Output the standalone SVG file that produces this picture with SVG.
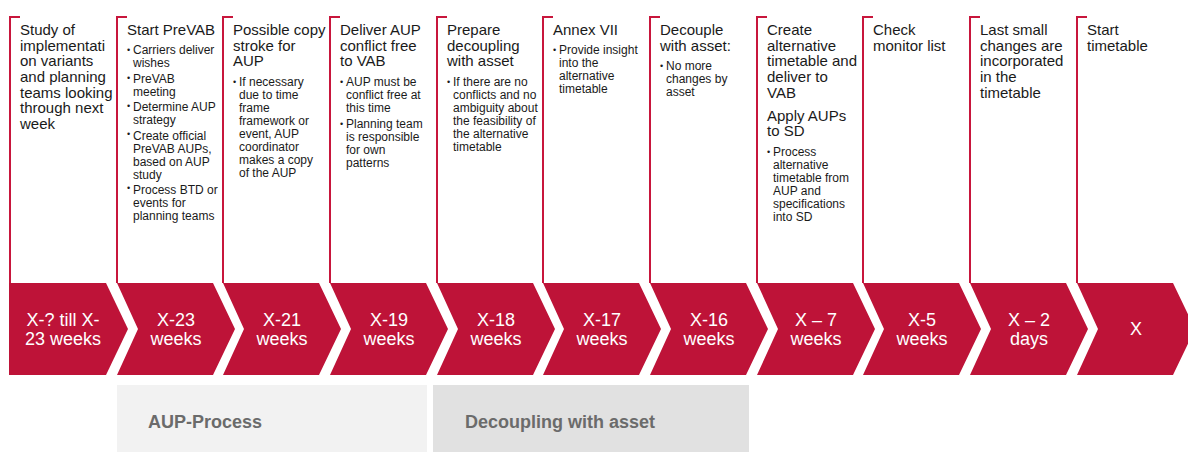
<svg xmlns="http://www.w3.org/2000/svg" width="1188" height="452" viewBox="0 0 1188 452">
<style>
.ln{fill:none;stroke:#C8163C;stroke-width:2}
.t{font-family:"Liberation Sans",Arial,sans-serif;font-size:15px;fill:#1a1a1a}
.b{font-family:"Liberation Sans",Arial,sans-serif;font-size:12px;fill:#1a1a1a}
.d{font-family:"Liberation Sans",Arial,sans-serif;font-size:9px;fill:#1a1a1a}
.ch{fill:#BE1338}
.c{font-family:"Liberation Sans",Arial,sans-serif;font-size:18px;fill:#ffffff;text-anchor:middle}
.bar1{fill:#F2F2F2}
.bar2{fill:#E1E1E1}
.bt{font-family:"Liberation Sans",Arial,sans-serif;font-size:18px;font-weight:bold;fill:#6B6B6B}
</style>
<rect width="1188" height="452" fill="#ffffff"/>
<g id="connectors"/>

<g id="stage0">
<path class="ln" d="M20,17 H10 V283"/>
<text class="t" x="20"><tspan x="20" y="35">Study of</tspan><tspan x="20" y="50.7">implementati</tspan><tspan x="20" y="66.3">on variants</tspan><tspan x="20" y="82">and planning</tspan><tspan x="20" y="97.7">teams looking</tspan><tspan x="20" y="113.3">through next</tspan><tspan x="20" y="129">week</tspan></text>
<polygon class="ch" points="9,283 106,283 128,329 106,375 9,375"/>
<text class="c"><tspan x="63" y="325.5">X-? till X-</tspan><tspan x="63" y="344.5">23 weeks</tspan></text>
</g>

<g id="stage1">
<path class="ln" d="M127,17 H117 V283"/>
<text class="t"><tspan x="127" y="35">Start PreVAB</tspan></text>
<text class="d"><tspan x="127" y="53">•</tspan><tspan x="127" y="81">•</tspan><tspan x="127" y="109">•</tspan><tspan x="127" y="137">•</tspan><tspan x="127" y="191">•</tspan></text>
<text class="b"><tspan x="133" y="54">Carriers deliver</tspan><tspan x="133" y="67">wishes</tspan><tspan x="133" y="82.5">PreVAB</tspan><tspan x="133" y="95.5">meeting</tspan><tspan x="133" y="111">Determine AUP</tspan><tspan x="133" y="124">strategy</tspan><tspan x="133" y="139.5">Create official</tspan><tspan x="133" y="152.5">PreVAB AUPs,</tspan><tspan x="133" y="165.5">based on AUP</tspan><tspan x="133" y="178.5">study</tspan><tspan x="133" y="194">Process BTD or</tspan><tspan x="133" y="207">events for</tspan><tspan x="133" y="220">planning teams</tspan></text>
<polygon class="ch" points="117,283 213,283 235,329 213,375 117,375 138,329"/>
<text class="c"><tspan x="176" y="325.5">X-23</tspan><tspan x="176" y="344.5">weeks</tspan></text>
</g>

<g id="stage2">
<path class="ln" d="M233,17 H223 V283"/>
<text class="t"><tspan x="233" y="35">Possible copy</tspan><tspan x="233" y="50.7">stroke for</tspan><tspan x="233" y="66.3">AUP</tspan></text>
<text class="d"><tspan x="233" y="85">•</tspan></text>
<text class="b"><tspan x="239" y="86">If necessary</tspan><tspan x="239" y="99">due to time</tspan><tspan x="239" y="112">frame</tspan><tspan x="239" y="125">framework or</tspan><tspan x="239" y="138">event, AUP</tspan><tspan x="239" y="151">coordinator</tspan><tspan x="239" y="164">makes a copy</tspan><tspan x="239" y="177">of the AUP</tspan></text>
<polygon class="ch" points="223,283 319,283 341,329 319,375 223,375 244,329"/>
<text class="c"><tspan x="282" y="325.5">X-21</tspan><tspan x="282" y="344.5">weeks</tspan></text>
</g>

<g id="stage3">
<path class="ln" d="M340,17 H330 V283"/>
<text class="t"><tspan x="340" y="35">Deliver AUP</tspan><tspan x="340" y="50.7">conflict free</tspan><tspan x="340" y="66.3">to VAB</tspan></text>
<text class="d"><tspan x="340" y="85">•</tspan><tspan x="340" y="126.5">•</tspan></text>
<text class="b"><tspan x="346" y="86">AUP must be</tspan><tspan x="346" y="99">conflict free at</tspan><tspan x="346" y="112">this time</tspan><tspan x="346" y="127.5">Planning team</tspan><tspan x="346" y="140.5">is responsible</tspan><tspan x="346" y="153.5">for own</tspan><tspan x="346" y="166.5">patterns</tspan></text>
<polygon class="ch" points="330,283 426,283 448,329 426,375 330,375 351,329"/>
<text class="c"><tspan x="389" y="325.5">X-19</tspan><tspan x="389" y="344.5">weeks</tspan></text>
</g>

<g id="stage4">
<path class="ln" d="M447,17 H437 V283"/>
<text class="t"><tspan x="447" y="35">Prepare</tspan><tspan x="447" y="50.7">decoupling</tspan><tspan x="447" y="66.3">with asset</tspan></text>
<text class="d"><tspan x="447" y="85">•</tspan></text>
<text class="b"><tspan x="453" y="86">If there are no</tspan><tspan x="453" y="99">conflicts and no</tspan><tspan x="453" y="112">ambiguity about</tspan><tspan x="453" y="125">the feasibility of</tspan><tspan x="453" y="138">the alternative</tspan><tspan x="453" y="151">timetable</tspan></text>
<polygon class="ch" points="437,283 533,283 555,329 533,375 437,375 458,329"/>
<text class="c"><tspan x="496" y="325.5">X-18</tspan><tspan x="496" y="344.5">weeks</tspan></text>
</g>

<g id="stage5">
<path class="ln" d="M553,17 H543 V283"/>
<text class="t"><tspan x="553" y="35">Annex VII</tspan></text>
<text class="d"><tspan x="553" y="52.5">•</tspan></text>
<text class="b"><tspan x="559" y="53.5">Provide insight</tspan><tspan x="559" y="66.5">into the</tspan><tspan x="559" y="79.5">alternative</tspan><tspan x="559" y="92.5">timetable</tspan></text>
<polygon class="ch" points="543,283 639,283 661,329 639,375 543,375 564,329"/>
<text class="c"><tspan x="602" y="325.5">X-17</tspan><tspan x="602" y="344.5">weeks</tspan></text>
</g>

<g id="stage6">
<path class="ln" d="M660,17 H650 V283"/>
<text class="t"><tspan x="660" y="35">Decouple</tspan><tspan x="660" y="50.7">with asset:</tspan></text>
<text class="d"><tspan x="660" y="69">•</tspan></text>
<text class="b"><tspan x="666" y="70">No more</tspan><tspan x="666" y="83">changes by</tspan><tspan x="666" y="96">asset</tspan></text>
<polygon class="ch" points="650,283 746,283 768,329 746,375 650,375 671,329"/>
<text class="c"><tspan x="709" y="325.5">X-16</tspan><tspan x="709" y="344.5">weeks</tspan></text>
</g>

<g id="stage7">
<path class="ln" d="M767,17 H757 V283"/>
<text class="t"><tspan x="767" y="35">Create</tspan><tspan x="767" y="50.7">alternative</tspan><tspan x="767" y="66.3">timetable and</tspan><tspan x="767" y="82">deliver to</tspan><tspan x="767" y="97.7">VAB</tspan><tspan x="767" y="120.7">Apply AUPs</tspan><tspan x="767" y="136.3">to SD</tspan></text>
<text class="d"><tspan x="767" y="154.7">•</tspan></text>
<text class="b"><tspan x="773" y="155.7">Process</tspan><tspan x="773" y="168.7">alternative</tspan><tspan x="773" y="181.7">timetable from</tspan><tspan x="773" y="194.7">AUP and</tspan><tspan x="773" y="207.7">specifications</tspan><tspan x="773" y="220.7">into SD</tspan></text>
<polygon class="ch" points="757,283 853,283 875,329 853,375 757,375 778,329"/>
<text class="c"><tspan x="816" y="325.5">X – 7</tspan><tspan x="816" y="344.5">weeks</tspan></text>
</g>

<g id="stage8">
<path class="ln" d="M873,17 H863 V283"/>
<text class="t"><tspan x="873" y="35">Check</tspan><tspan x="873" y="50.7">monitor list</tspan></text>
<polygon class="ch" points="863,283 959,283 981,329 959,375 863,375 884,329"/>
<text class="c"><tspan x="922" y="325.5">X-5</tspan><tspan x="922" y="344.5">weeks</tspan></text>
</g>

<g id="stage9">
<path class="ln" d="M980,17 H970 V283"/>
<text class="t"><tspan x="980" y="35">Last small</tspan><tspan x="980" y="50.7">changes are</tspan><tspan x="980" y="66.3">incorporated</tspan><tspan x="980" y="82">in the</tspan><tspan x="980" y="97.7">timetable</tspan></text>
<polygon class="ch" points="970,283 1066,283 1088,329 1066,375 970,375 991,329"/>
<text class="c"><tspan x="1029" y="325.5">X – 2</tspan><tspan x="1029" y="344.5">days</tspan></text>
</g>

<g id="stage10">
<path class="ln" d="M1087,17 H1077 V283"/>
<text class="t"><tspan x="1087" y="35">Start</tspan><tspan x="1087" y="50.7">timetable</tspan></text>
<polygon class="ch" points="1077,283 1173,283 1195,329 1173,375 1077,375 1098,329"/>
<text class="c"><tspan x="1136" y="334.5">X</tspan></text>
</g>

<g id="phase-aup">
<rect class="bar1" x="117" y="385" width="310" height="67"/>
<text class="bt" x="148" y="428">AUP-Process</text>
</g>
<g id="phase-decoupling">
<rect class="bar2" x="433" y="385" width="316" height="67"/>
<text class="bt" x="465" y="428">Decoupling with asset</text>
</g>
</svg>
